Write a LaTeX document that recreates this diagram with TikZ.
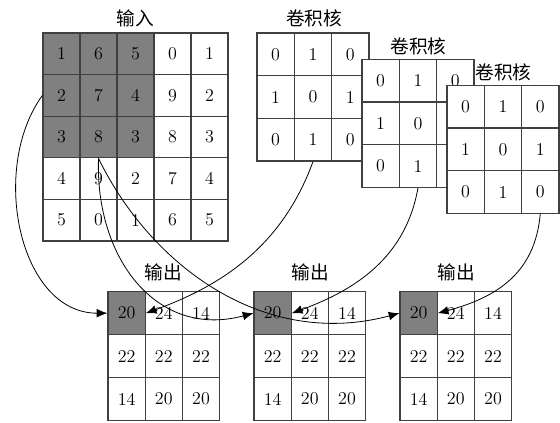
\documentclass[tikz,border=0pt]{standalone}
\usepackage{fontspec}
\newfontfamily\cjk{Noto Sans CJK SC}
\usetikzlibrary{arrows.meta}
\tikzset{
  cellbox/.style={draw=black!75, line width=0.9pt, inner sep=0pt, font=\fontsize{13.5}{15}\selectfont},
  incell/.style={cellbox, minimum width=27.75pt, minimum height=31.2pt},
  kcell/.style={cellbox, fill=white, minimum width=27.975pt, minimum height=32.025pt},
  ocell/.style={cellbox, minimum width=27.9pt, minimum height=32.25pt},
  lbl/.style={font=\cjk\fontsize{14}{16}\selectfont, inner sep=0pt},
  conn/.style={draw=black, line width=0.6pt, -{Latex[length=8pt,width=6.5pt]}}
}
\begin{document}
\begin{tikzpicture}[x=0.75pt,y=0.75pt]
\fill[white] (0,0) rectangle (560,423);
\useasboundingbox (0,0) rectangle (560,423);
% input grid
\foreach \row [count=\r] in {{1,6,5,0,1},{2,7,4,9,2},{3,8,3,8,3},{4,9,2,7,4},{5,0,1,6,5}}{
  \foreach \v [count=\c] in \row {
    \def\fc{white}
    \ifnum\r<4 \ifnum\c<4 \def\fc{black!50}\fi\fi
    \node[incell, fill=\fc] (in-\r-\c) at ({61.5+37*(\c-1)}, {369.2-41.6*(\r-1)}) {\v};
  }
}
\node[lbl] (lin) at (135.5,405) {输入};
% kernels
\foreach \k/\kx/\ky in {ka/275.65/368.65, kb/380.65/342.35, kc/465.65/316.35}{
  \foreach \row [count=\r] in {{0,1,0},{1,0,1},{0,1,0}}{
    \foreach \v [count=\c] in \row {
      \node[kcell] (\k-\r-\c) at ({\kx+37.3*(\c-1)}, {\ky-42.7*(\r-1)}) {\v};
    }
  }
}
\node[lbl] (lka) at (314,405) {卷积核};
\node[lbl] (lkb) at (418.5,377) {卷积核};
\node[lbl] (lkc) at (503.5,350.5) {卷积核};
% outputs
\foreach \o/\ox in {oa/126.6, ob/272.6, oc/418.6}{
  \foreach \row [count=\r] in {{20,24,14},{22,22,22},{14,20,20}}{
    \foreach \v [count=\c] in \row {
      \def\fc{white}
      \ifnum\r=1 \ifnum\c=1 \def\fc{black!50}\fi\fi
      \node[ocell, fill=\fc] (\o-\r-\c) at ({\ox+37.2*(\c-1)}, {109.8-43*(\r-1)}) {\v};
    }
  }
}
\node[lbl] (loa) at (163.5,150.5) {输出};
\node[lbl] (lob) at (310,150.5) {输出};
\node[lbl] (loc) at (456.5,150.5) {输出};
% connectors
\draw[conn] (in-2-1.west) to[out=234,in=180,out distance=68pt,in distance=66pt] (oa-1-1.west);
\draw[conn] (in-3-2.south) to[out=268,in=195,out distance=75pt,in distance=75pt] (ob-1-1.west);
\draw[conn] (in-3-2.south) to[out=296,in=195,out distance=90pt,in distance=105pt] (oc-1-1.west);
\draw[conn] (ka-3-2.south) to[out=250,in=20,out distance=68pt,in distance=60pt] (oa-1-1.east);
\draw[conn] (kb-3-2.south) to[out=260,in=20,out distance=52pt,in distance=52pt] (ob-1-1.east);
\draw[conn] (kc-3-3.south) to[out=265,in=15,out distance=45pt,in distance=45pt] (oc-1-1.east);
\end{tikzpicture}
\end{document}
